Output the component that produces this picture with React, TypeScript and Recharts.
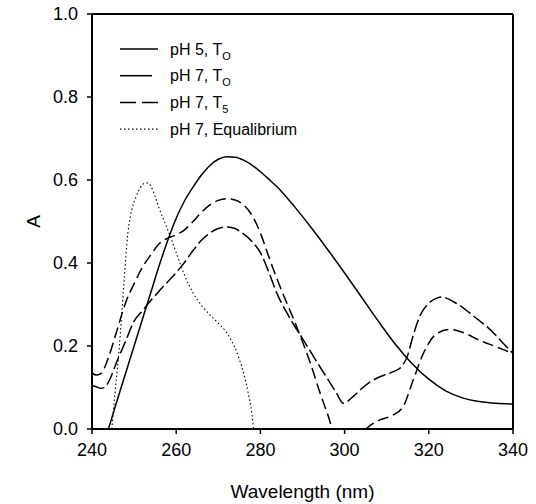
import React from 'react';
import { LineChart, Line, XAxis, YAxis, ReferenceLine, Legend } from 'recharts';

const FONT = '"Liberation Sans", Arial, Helvetica, sans-serif';

const xTicks = [240, 260, 280, 300, 320, 340];
const yTicks = [0, 0.2, 0.4, 0.6, 0.8, 1.0];

// pH 5, T0 (solid)
const ph5T0X = [243.9, 246, 248, 250, 252, 254, 256, 258, 260, 262, 264, 266, 268, 270, 272, 274, 276, 278, 280, 282, 284, 286, 288, 292, 296, 300, 304, 308, 312, 316, 320, 324, 328, 332, 336, 340];
const ph5T0Y = [0, 0.07, 0.135, 0.2, 0.265, 0.33, 0.395, 0.455, 0.508, 0.55, 0.583, 0.612, 0.635, 0.65, 0.656, 0.655, 0.648, 0.636, 0.62, 0.602, 0.583, 0.561, 0.537, 0.486, 0.432, 0.376, 0.318, 0.26, 0.205, 0.158, 0.12, 0.092, 0.075, 0.066, 0.062, 0.06];

// pH 7, T0 (dashed, lower UV peak)
const ph7T0X = [240, 241, 242, 243, 244, 246, 248, 250, 252, 254, 256, 258, 260, 262, 264, 266, 268, 270, 272, 274, 276, 278, 280, 282, 284, 286, 288, 290, 292, 294, 296, 298, 299.7, 302, 304, 306, 308, 310, 312, 313.5, 315, 316, 318, 320, 322, 323, 324, 326, 328, 330, 332, 334, 336, 338, 340];
const ph7T0Y = [0.105, 0.102, 0.098, 0.1, 0.115, 0.165, 0.212, 0.26, 0.285, 0.31, 0.333, 0.355, 0.377, 0.402, 0.43, 0.455, 0.472, 0.483, 0.487, 0.483, 0.47, 0.452, 0.425, 0.378, 0.325, 0.285, 0.25, 0.218, 0.185, 0.152, 0.12, 0.088, 0.062, 0.078, 0.097, 0.113, 0.124, 0.132, 0.14, 0.15, 0.178, 0.215, 0.275, 0.303, 0.316, 0.318, 0.316, 0.306, 0.293, 0.277, 0.261, 0.245, 0.225, 0.203, 0.182];

// pH 7, T5 (dashed, higher UV peak)
const ph7T5X = [240, 241, 242, 243, 244, 246, 248, 250, 252, 254, 256, 258, 260, 262, 264, 266, 268, 270, 272, 274, 276, 278, 280, 282, 284, 286, 288, 290, 292, 294, 296, 297.3, 305, 306, 308.4, 311.6, 313.9, 316.3, 318.7, 321.9, 325, 328, 332, 336, 340];
const ph7T5Y = [0.135, 0.13, 0.133, 0.148, 0.175, 0.24, 0.305, 0.35, 0.39, 0.42, 0.447, 0.46, 0.468, 0.48, 0.5, 0.522, 0.54, 0.551, 0.555, 0.552, 0.54, 0.515, 0.472, 0.415, 0.36, 0.31, 0.262, 0.21, 0.155, 0.092, 0.035, 0, 0, 0.008, 0.022, 0.034, 0.054, 0.118, 0.182, 0.23, 0.24, 0.233, 0.214, 0.198, 0.182];

// pH 7, Equilibrium (dotted)
const ph7EqX = [244.7, 245.5, 246.5, 247.5, 248.5, 249.5, 250.5, 251.5, 252.5, 253.2, 254, 255, 256, 257, 258, 260, 262, 264, 266, 268, 270, 272, 273, 274, 275, 276, 277, 278, 278.4];
const ph7EqY = [0, 0.09, 0.2, 0.34, 0.47, 0.53, 0.56, 0.582, 0.592, 0.593, 0.585, 0.56, 0.53, 0.505, 0.48, 0.425, 0.37, 0.328, 0.298, 0.275, 0.255, 0.232, 0.215, 0.195, 0.168, 0.135, 0.092, 0.035, 0];

const legendLabels = ['pH 5, T', 'pH 7, T', 'pH 7, T', 'pH 7, Equalibrium'];
const legendSubs = ['O', 'O', '5', ''];
const legendDash = ['', '', '16 6', '1.5 2.5'];
const legendLen = [38, 32, 38, 38];

const toPoints = (xs: number[], ys: number[]) => xs.map((x, i) => ({ x, y: ys[i] }));

const ph5T0 = toPoints(ph5T0X, ph5T0Y);
const ph7T0 = toPoints(ph7T0X, ph7T0Y);
const ph7T5 = toPoints(ph7T5X, ph7T5Y);
const ph7Eq = toPoints(ph7EqX, ph7EqY);

const LegendBox = () => (
  <svg width={240} height={110} style={{ overflow: 'visible' }}>
    {legendLabels.map((lab, i) => {
      const y = 13 + i * 26.7;
      return (
        <g key={i}>
          <line x1={0} x2={legendLen[i]} y1={y} y2={y} stroke="#000" strokeWidth={legendDash[i] === '1.5 2.5' ? 1.1 : 1.5} strokeDasharray={legendDash[i] || undefined} />
          <text x={50} y={y + 5.7} fontSize={16} fontFamily={FONT} fill="#000">
            {lab}
            {legendSubs[i] ? <tspan fontSize={11} dy={5}>{legendSubs[i]}</tspan> : null}
          </text>
        </g>
      );
    })}
  </svg>
);

const XTitle = (props: any) => {
  const vb = props.viewBox || { x: 92, y: 429, width: 421, height: 75 };
  return (
    <text x={vb.x + vb.width / 2} y={vb.y + 69} textAnchor="middle" fontSize={19} fontFamily={FONT} fill="#000">
      Wavelength (nm)
    </text>
  );
};

const YTitle = (props: any) => {
  const vb = props.viewBox || { x: 0, y: 14, width: 92, height: 415 };
  const cy = vb.y + vb.height / 2;
  const cx = 33;
  return (
    <text x={cx} y={cy} transform={`rotate(-90, ${cx}, ${cy})`} textAnchor="middle" dominantBaseline="central" fontSize={19} fontFamily={FONT} fill="#000">
      A
    </text>
  );
};

export default function App() {
  return (
    <div style={{ position: 'absolute', left: 0, top: 0, width: 536, height: 504, background: '#fff' }}>
      <LineChart width={536} height={504} margin={{ top: 14, right: 23, bottom: 0, left: 0 }}>
        <XAxis
          dataKey="x"
          type="number"
          domain={[240, 340]}
          ticks={xTicks}
          allowDataOverflow
          height={75}
          tickSize={5}
          tickMargin={9}
          tick={{ fill: '#000', fontSize: 18, fontFamily: FONT }}
          tickLine={{ stroke: '#000', strokeWidth: 1.5 }}
          axisLine={{ stroke: '#000', strokeWidth: 2 }}
          label={<XTitle />}
        />
        <YAxis
          type="number"
          domain={[0, 1]}
          ticks={yTicks}
          allowDataOverflow
          width={92}
          tickSize={5}
          tickMargin={9}
          tickFormatter={(v: number) => v.toFixed(1)}
          tick={{ fill: '#000', fontSize: 18, fontFamily: FONT }}
          tickLine={{ stroke: '#000', strokeWidth: 1.5 }}
          axisLine={{ stroke: '#000', strokeWidth: 2 }}
          label={<YTitle />}
        />
        <ReferenceLine y={1} stroke="#000" strokeWidth={2} ifOverflow="visible" />
        <ReferenceLine x={340} stroke="#000" strokeWidth={2} ifOverflow="visible" />
        <Legend
          layout="vertical"
          align="center"
          verticalAlign="middle"
          content={() => <LegendBox />}
          wrapperStyle={{ left: 120, top: 36, width: 240, height: 110 }}
        />
        <Line data={ph5T0} dataKey="y" name="pH 5, T0" type="monotone" stroke="#000" strokeWidth={1.5} dot={false} activeDot={false} isAnimationActive={false} />
        <Line data={ph7T0} dataKey="y" name="pH 7, T0" type="monotone" stroke="#000" strokeWidth={1.5} strokeDasharray="13 4" dot={false} activeDot={false} isAnimationActive={false} />
        <Line data={ph7T5} dataKey="y" name="pH 7, T5" type="monotone" stroke="#000" strokeWidth={1.5} strokeDasharray="11 5" dot={false} activeDot={false} isAnimationActive={false} />
        <Line data={ph7Eq} dataKey="y" name="pH 7, Equalibrium" type="monotone" stroke="#000" strokeWidth={1.1} strokeDasharray="1.5 2.5" dot={false} activeDot={false} isAnimationActive={false} />
      </LineChart>
    </div>
  );
}
